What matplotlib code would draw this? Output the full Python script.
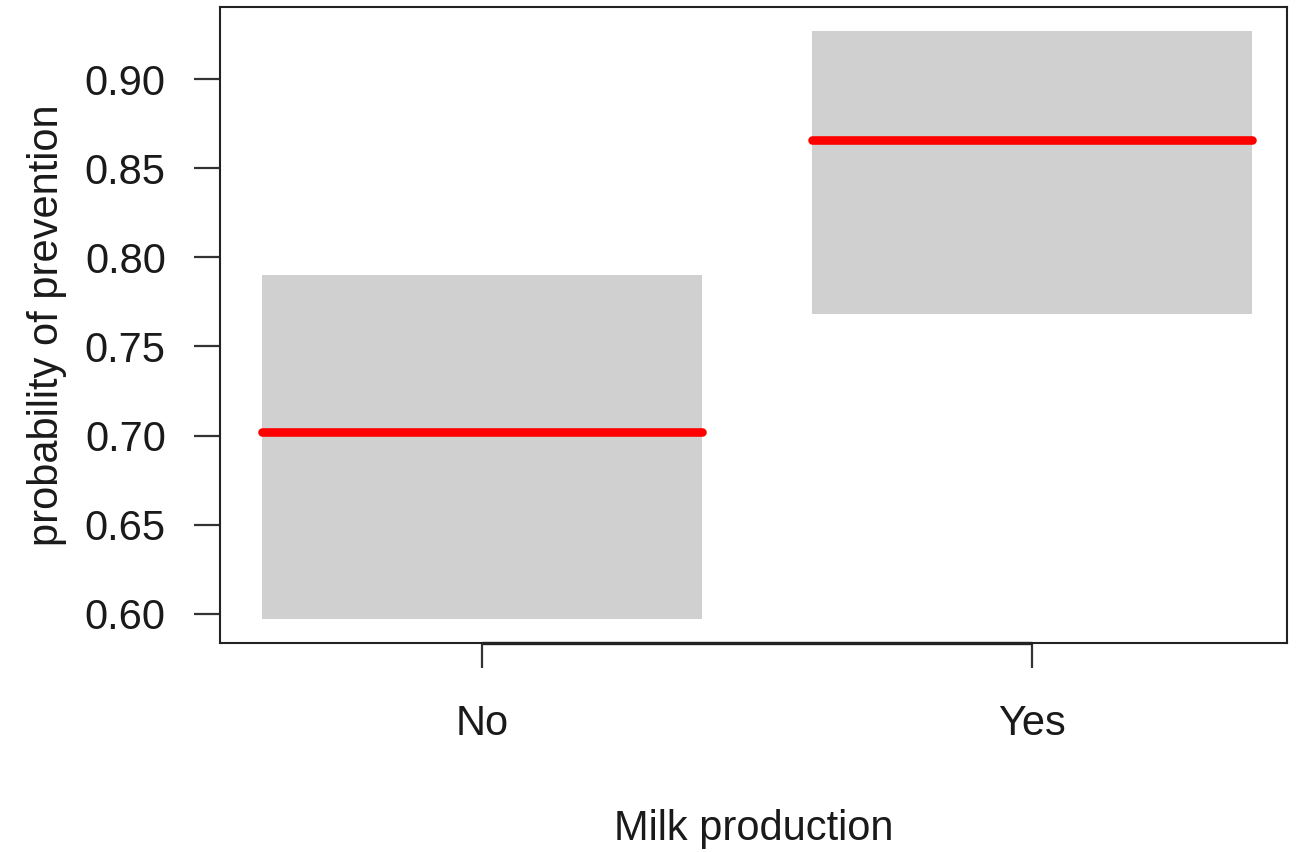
import matplotlib
matplotlib.use("Agg")
import matplotlib.pyplot as plt
import matplotlib.transforms as mtransforms

# Effect estimates with confidence bounds for each level of milk production
categories = ["No", "Yes"]
estimate = [0.702, 0.866]
lower = [0.597, 0.768]
upper = [0.790, 0.927]

yticks = [0.60, 0.65, 0.70, 0.75, 0.80, 0.85, 0.90]
ytick_labels = ["0.60", "0.65", "0.70", "0.75", "0.80", "0.85", "0.90"]

plt.rcParams["font.family"] = ["Liberation Sans", "DejaVu Sans"]

fig = plt.figure(figsize=(12.99, 8.52), dpi=100)
ax = fig.add_axes([220 / 1299, 1 - 643 / 852, (1287 - 220) / 1299, (643 - 7) / 852])

x = list(range(len(categories)))
half = 0.4

# Confidence bands
heights = [u - l for u, l in zip(upper, lower)]
ax.bar(x, heights, bottom=lower, width=2 * half, color="#d0d0d0",
       edgecolor="none", zorder=1)

# Point estimates
for xi, est in zip(x, estimate):
    ax.plot([xi - half, xi + half], [est, est], color="#ff0000", lw=6.2,
            solid_capstyle="round", zorder=2)

ax.set_xlim(-0.476, 1.464)
ax.set_ylim(0.5837, 0.9404)

ax.set_yticks(yticks)
ax.set_yticklabels(ytick_labels)
ax.set_xticks(x)
ax.set_xticklabels(categories)

for s in ax.spines.values():
    s.set_linewidth(1.5)
    s.set_color("#222222")

# Axis line running between the first and last category tick
trans = mtransforms.blended_transform_factory(ax.transData, ax.transAxes)
ax.plot([x[0], x[-1]], [0, 0], transform=trans, color="#222222", lw=2.4,
        clip_on=False, zorder=5, solid_capstyle="butt")

ax.tick_params(axis="y", length=19, width=1.6, color="#333333",
               labelsize=30, pad=20, labelcolor="#1a1a1a")
ax.tick_params(axis="x", length=18, width=1.6, color="#333333",
               labelsize=30, pad=26, labelcolor="#1a1a1a")

ax.set_xlabel("Milk production", fontsize=30, labelpad=47, color="#1a1a1a")
ax.set_ylabel("probability of prevention", fontsize=30, labelpad=13,
              color="#1a1a1a")

fig.savefig("out.png", dpi=100)
